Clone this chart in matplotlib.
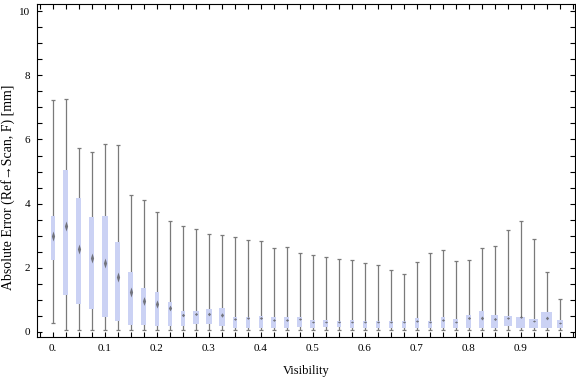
import numpy as np
import matplotlib
matplotlib.use("Agg")
import matplotlib.pyplot as plt
from matplotlib.ticker import MultipleLocator, FixedLocator

# visibilidad (centro de cada caja)
visibility = np.arange(40) * 0.025

# extremos de los bigotes
whisker_hi = [7.23, 7.25, 5.72, 5.61, 5.85, 5.82, 4.26, 4.11, 3.74, 3.45,
              3.30, 3.20, 3.05, 3.02, 2.95, 2.86, 2.83, 2.61, 2.64, 2.45,
              2.39, 2.33, 2.26, 2.23, 2.14, 2.08, 1.93, 1.80, 2.17, 2.45,
              2.54, 2.20, 2.23, 2.61, 2.67, 3.17, 3.45, 2.89, 1.86, 1.02]
whisker_lo = [0.28] + [0.05] * 39

# cuartiles
q3 = [3.61, 5.05, 4.17, 3.58, 3.61, 2.80, 1.87, 1.37, 1.25, 0.93,
      0.65, 0.65, 0.72, 0.75, 0.47, 0.47, 0.50, 0.47, 0.47, 0.47,
      0.37, 0.37, 0.34, 0.37, 0.35, 0.35, 0.35, 0.34, 0.44, 0.34,
      0.47, 0.40, 0.53, 0.65, 0.53, 0.50, 0.47, 0.40, 0.62, 0.37]
q1 = [2.24, 1.16, 0.86, 0.70, 0.47, 0.33, 0.23, 0.23, 0.19, 0.19,
      0.19, 0.25, 0.25, 0.17, 0.13, 0.13, 0.13, 0.13, 0.13, 0.16,
      0.13, 0.16, 0.16, 0.13, 0.13, 0.13, 0.13, 0.13, 0.13, 0.13,
      0.13, 0.13, 0.13, 0.13, 0.13, 0.17, 0.13, 0.13, 0.13, 0.13]
median = [2.99, 3.31, 2.58, 2.30, 2.16, 1.72, 1.25, 0.97, 0.86, 0.75,
          0.53, 0.56, 0.57, 0.54, 0.40, 0.43, 0.43, 0.38, 0.37, 0.39,
          0.32, 0.31, 0.31, 0.31, 0.30, 0.30, 0.30, 0.31, 0.34, 0.31,
          0.37, 0.31, 0.43, 0.42, 0.39, 0.44, 0.48, 0.34, 0.44, 0.27]

# ancho de cada caja (unidades de visibilidad)
box_width = [0.0085, 0.0096, 0.0096, 0.0096, 0.0100, 0.0096, 0.0096, 0.0096, 0.0090, 0.0085,
             0.0085, 0.0105, 0.0110, 0.0100, 0.0080, 0.0085, 0.0090, 0.0096, 0.0096, 0.0100,
             0.0100, 0.0100, 0.0080, 0.0085, 0.0085, 0.0085, 0.0090, 0.0080, 0.0085, 0.0085,
             0.0080, 0.0090, 0.0096, 0.0096, 0.0140, 0.0165, 0.0175, 0.0170, 0.0210, 0.0115]

xticks = [0, 0.1, 0.2, 0.3, 0.4, 0.5, 0.6, 0.7, 0.8, 0.9]
xticklabels = ["0.", "0.1", "0.2", "0.3", "0.4", "0.5", "0.6", "0.7", "0.8", "0.9"]

plt.rcParams['font.family'] = ['Liberation Serif', 'DejaVu Serif']

fig = plt.figure(figsize=(5.76, 3.77), dpi=100)
ax = fig.add_axes([0.064, 0.106, 0.934, 0.883])

gris = '#7a7a7a'
ax.vlines(visibility, whisker_lo, whisker_hi, color=gris, lw=0.9, zorder=1)
ax.hlines(whisker_hi, visibility - 0.004, visibility + 0.004, color=gris, lw=0.9, zorder=1)
ax.hlines(whisker_lo, visibility - 0.004, visibility + 0.004, color=gris, lw=0.9, zorder=1)
ax.bar(visibility, np.array(q3) - np.array(q1), bottom=q1, width=box_width,
       color='#cbd2f4', edgecolor='none', zorder=2)

# marca de la mediana (rombo)
px_per_unit = 0.883 * 377 / 10.38
for x, m, a, b in zip(visibility, median, q1, q3):
    hm = np.clip(0.12 * (b - a) * px_per_unit, 1.0, 5.0)
    wm = 1.6
    verts = [(0, hm), (wm, 0), (0, -hm), (-wm, 0), (0, hm)]
    ax.plot(x, m, marker=verts, ms=2 * max(hm, wm) * 0.72, color='#555555',
            alpha=0.75, mew=0, zorder=3)

ax.set_xlim(-0.031, 1.004)
ax.set_ylim(-0.16, 10.22)
ax.xaxis.set_major_locator(FixedLocator(xticks))
ax.set_xticklabels(xticklabels)
ax.xaxis.set_minor_locator(MultipleLocator(0.025))
ax.yaxis.set_major_locator(MultipleLocator(2))
ax.yaxis.set_minor_locator(MultipleLocator(0.5))
ax.tick_params(which='both', direction='in', top=True, right=True,
               length=3.5, width=0.8, labelsize=8, pad=5)
for s in ax.spines.values():
    s.set_linewidth(0.8)

ax.set_xlabel('Visibility', fontsize=9)
ax.set_ylabel('Absolute Error (Ref\u2192Scan, F) [mm]', fontsize=10)
ax.xaxis.set_label_coords(0.5, -0.085)
ax.yaxis.set_label_coords(-0.040, 0.45)

fig.savefig('out.png', dpi=100)
